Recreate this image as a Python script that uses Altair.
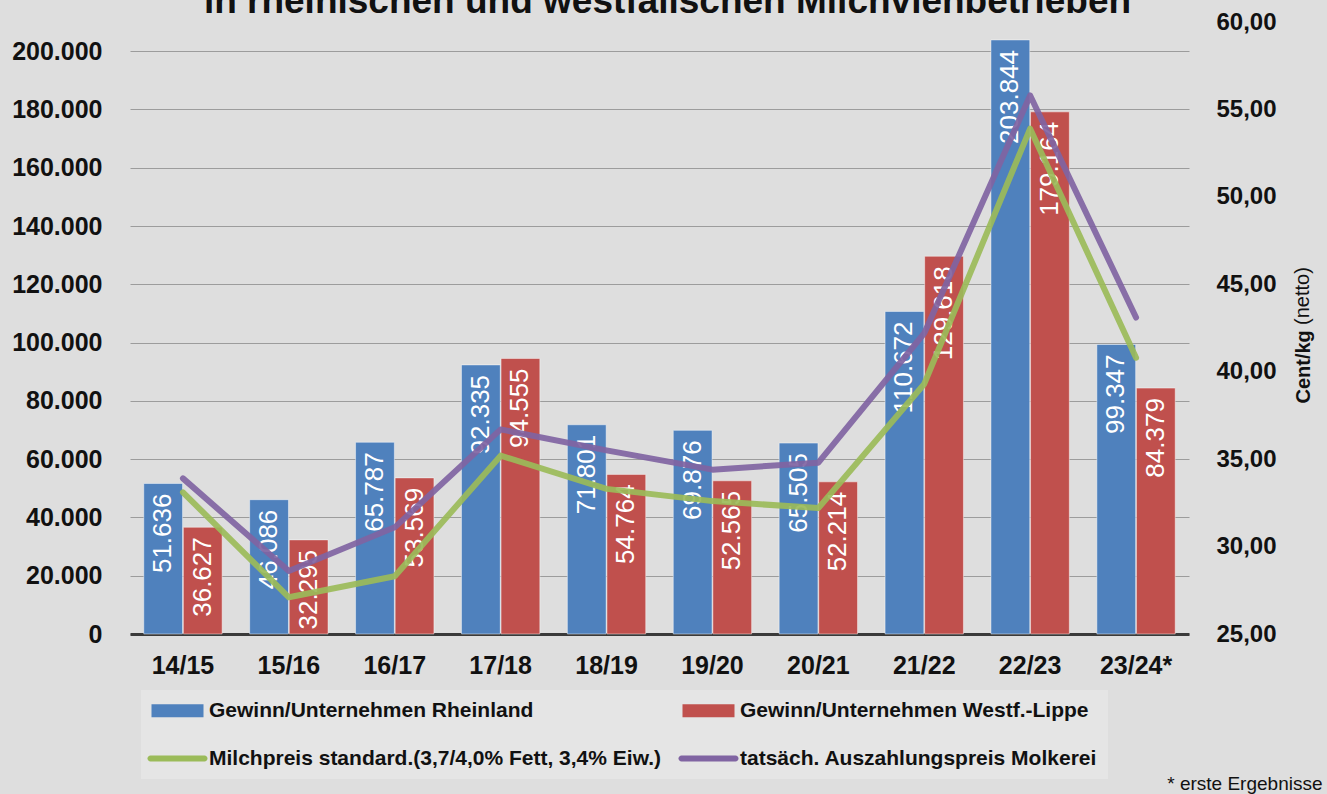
import altair as alt
import pandas as pd

# ---- data ----
years = ["14/15", "15/16", "16/17", "17/18", "18/19", "19/20", "20/21", "21/22", "22/23", "23/24*"]
rheinland = [51636, 46086, 65787, 92335, 71801, 69876, 65505, 110672, 203844, 99347]
westf = [36627, 32295, 53569, 94555, 54764, 52565, 52214, 129618, 179164, 84379]
milchpreis = [33.1, 27.1, 28.3, 35.2, 33.3, 32.6, 32.2, 39.3, 53.9, 40.8]
auszahlung = [33.9, 28.6, 31.1, 36.7, 35.5, 34.4, 34.8, 42.2, 55.8, 43.1]

series_names = [
    "Gewinn/Unternehmen Rheinland",
    "Gewinn/Unternehmen Westf.-Lippe",
    "Milchpreis standard.(3,7/4,0% Fett, 3,4% Eiw.)",
    "tatsäch. Auszahlungspreis Molkerei",
]
series_colors = ["#4f81bd", "#c0504d", "#9bbb59", "#8064a2"]
title_text = "in rheinischen und westfälischen Milchviehbetrieben"
footnote = "* erste  Ergebnisse"
unit_bold = "Cent/kg"
unit_normal = ["(netto)"]
left_ticks = list(range(0, 200001, 20000))
right_ticks = [25, 30, 35, 40, 45, 50, 55, 60]

bars_df = pd.DataFrame(
    [{"year": y, "series": series_names[0], "value": v} for y, v in zip(years, rheinland)]
    + [{"year": y, "series": series_names[1], "value": v} for y, v in zip(years, westf)]
)
lines_df = pd.DataFrame(
    [{"year": y, "series": series_names[2], "price": v} for y, v in zip(years, milchpreis)]
    + [{"year": y, "series": series_names[3], "price": v} for y, v in zip(years, auszahlung)]
)
unit_df = pd.DataFrame({"t": unit_normal})

FONT = "Liberation Sans, Arial, sans-serif"

BAR_SYM = "M-2.6,-0.65H2.6V0.65H-2.6Z"
LINE_SYM = "M-2.7,-0.3H2.7A0.3,0.3 0 0 1 2.7,0.3H-2.7A0.3,0.3 0 0 1 -2.7,-0.3Z"

x_enc = alt.X(
    "year:N",
    sort=years,
    scale=alt.Scale(paddingInner=0.26, paddingOuter=0.13),
    axis=alt.Axis(
        title=footnote,
        titleFont=FONT,
        titleFontSize=19,
        titleFontWeight="normal",
        titleColor="#111111",
        titleAnchor="end",
        titleAlign="right",
        titleBaseline="middle",
        titleX=1192,
        titleY=149,
        labelAngle=0,
        labelFont=FONT,
        labelFontSize=25,
        labelFontWeight="bold",
        labelColor="#111111",
        labelPadding=19,
        ticks=False,
        domainColor="#3a3a3a",
        domainWidth=3,
        grid=False,
    ),
)

color_scale = alt.Scale(domain=series_names, range=series_colors)

legend = alt.Legend(
    title=None,
    orient="none",
    direction="horizontal",
    legendX=11,
    legendY=668,
    columns=2,
    columnPadding=16,
    rowPadding=26,
    padding=10,
    fillColor="#e5e5e5",
    labelFont=FONT,
    labelFontSize=21,
    labelFontWeight="bold",
    labelColor="#111111",
    labelLimit=700,
    symbolSize=400,
    symbolType={"expr": f"datum.index < 2 ? '{BAR_SYM}' : '{LINE_SYM}'"},
    symbolStrokeWidth=0,
    symbolOpacity=1,
    symbolOffset=16,
    labelOffset=21,
)

color_enc = alt.Color("series:N", scale=color_scale, legend=legend)

y_left = alt.Y(
    "value:Q",
    scale=alt.Scale(domain=[0, 210000], nice=False),
    axis=alt.Axis(
        title=None,
        values=left_ticks,
        labelExpr="replace(format(datum.value, ','), ',', '.')",
        labelFont=FONT,
        labelFontSize=25,
        labelFontWeight="bold",
        labelColor="#111111",
        labelPadding=28,
        ticks=False,
        domain=False,
        grid=True,
        gridColor="#9c9c9c",
        gridWidth=1,
        orient="left",
    ),
)

bars = alt.Chart(bars_df).mark_bar(stroke="#ffffff", strokeOpacity=0.45, strokeWidth=1).encode(
    x=x_enc,
    xOffset=alt.XOffset("series:N", sort=series_names[:2], scale=alt.Scale(paddingInner=0.02)),
    y=y_left,
    color=color_enc,
)

labels = alt.Chart(bars_df).transform_calculate(
    lab="replace(format(datum.value, ','), ',', '.')"
).mark_text(
    angle=270, align="right", baseline="middle", dx=-10,
    font=FONT, fontSize=26, color="white",
).encode(
    x=alt.X("year:N", sort=years),
    xOffset=alt.XOffset("series:N", sort=series_names[:2]),
    y=alt.Y("value:Q"),
    text="lab:N",
)

lines = alt.Chart(lines_df).mark_line(strokeWidth=6, strokeCap="round", strokeJoin="round", opacity=0.92).encode(
    x=alt.X("year:N", sort=years),
    y=alt.Y(
        "price:Q",
        scale=alt.Scale(domain=[25, 60], nice=False),
        axis=alt.Axis(
            title=unit_bold,
            titleFont=FONT,
            titleFontSize=20,
            titleFontWeight="bold",
            titleColor="#111111",
            titleAngle=270,
            titleX=114,
            titleY=381,
            titleAlign="left",
            titleBaseline="middle",
            values=right_ticks,
            labelExpr="replace(format(datum.value, '.2f'), '.', ',')",
            labelFont=FONT,
            labelFontSize=24,
            labelFontWeight="bold",
            labelColor="#111111",
            labelPadding=27,
            ticks=False,
            domain=False,
            grid=False,
            orient="right",
        ),
    ),
    color=color_enc,
    order=alt.Order("series:N"),
)

unit_text = alt.Chart(unit_df).mark_text(
    angle=270, align="left", baseline="middle",
    font=FONT, fontSize=20, fontWeight="normal", color="#111111",
).encode(
    x=alt.value(1173),
    y=alt.value(303),
    text="t:N",
)

chart = alt.layer(alt.layer(bars, labels), lines, unit_text).resolve_scale(y="independent").properties(
    width=1059,
    height=612,
    autosize=alt.AutoSizeParams(type="none"),
    padding={"left": 130, "top": 22, "right": 138, "bottom": 160},
    background="#dedede",
    title=alt.TitleParams(
        text=title_text,
        font=FONT,
        fontSize=37,
        fontWeight="bold",
        color="#111111",
        anchor="middle",
        frame="group",
        offset=0,
        dx=8,
        dy=11,
    ),
).configure_view(stroke=None)

chart.save("out.html", embed_options={"renderer": "svg", "actions": False})
